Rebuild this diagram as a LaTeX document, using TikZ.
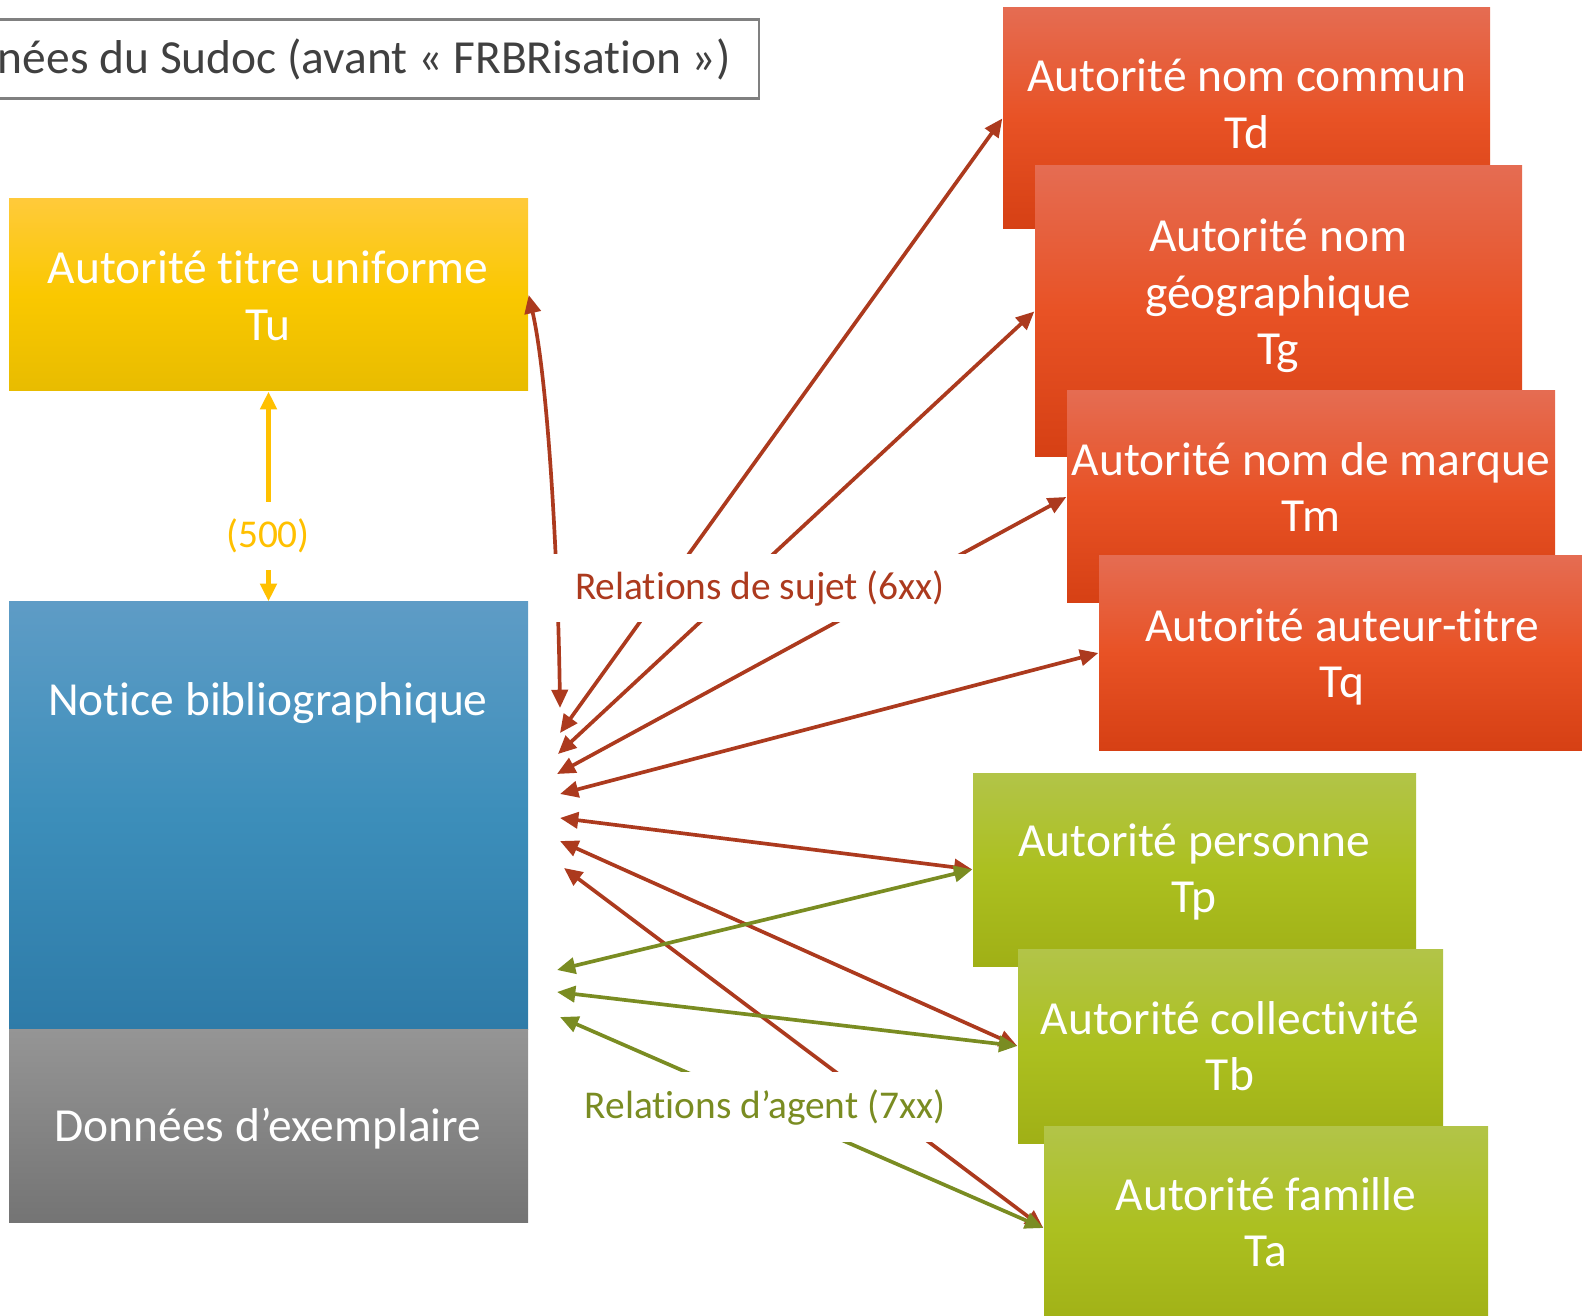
\documentclass[tikz,border=0pt]{standalone}
\usepackage{fontspec}
\setmainfont{Carlito}[Ligatures=NoCommon]
\usetikzlibrary{arrows.meta,fit}

\definecolor{flecherouge}{RGB}{172,58,30}
\definecolor{flecheverte}{RGB}{122,140,34}
\definecolor{flechejaune}{RGB}{255,192,0}

\tikzset{
  bloc/.style={rectangle, inner sep=0pt},
  blocrouge/.style={bloc, top color={rgb,255:red,229;green,108;blue,82}, bottom color={rgb,255:red,214;green,64;blue,20}, middle color={rgb,255:red,232;green,82;blue,37}},
  blocvert/.style={bloc, top color={rgb,255:red,178;green,196;blue,72}, bottom color={rgb,255:red,160;green,176;blue,22}, middle color={rgb,255:red,172;green,192;blue,32}},
  blocjaune/.style={bloc, top color={rgb,255:red,255;green,202;blue,58}, bottom color={rgb,255:red,232;green,188;blue,0}, middle color={rgb,255:red,250;green,200;blue,0}},
  blocbleu/.style={bloc, top color={rgb,255:red,94;green,156;blue,198}, bottom color={rgb,255:red,46;green,123;blue,168}, middle color={rgb,255:red,60;green,142;blue,186}},
  blocgris/.style={bloc, top color={rgb,255:red,149;green,149;blue,149}, bottom color={rgb,255:red,116;green,116;blue,116}},
  txt/.style={text=white, align=center, font=\fontsize{13.5}{16.1}\selectfont},
  etiq/.style={fill=white, inner sep=0pt, font=\fontsize{11.2}{13}\selectfont},
  pointe/.style={line width=1.05pt, {Triangle[length=5.2pt,width=4.6pt]}-{Triangle[length=5.2pt,width=4.6pt]}},
  lienrouge/.style={pointe, draw=flecherouge},
  lienvert/.style={pointe, draw=flecheverte},
}

\begin{document}
\begin{tikzpicture}[x=0.01cm, y=-0.01cm]
			%%%%% START %%%%%
			\useasboundingbox (0,0) rectangle (1582,1316);
			\clip (0,0) rectangle (1582,1316);
			
			\node[draw=gray, line width=0.6pt, anchor=east, minimum height=0.79cm, inner xsep=8pt, text={rgb,255:red,64;green,64;blue,64}, font=\fontsize{13.5}{16.1}\selectfont] (titre) at (760,59) {nées du Sudoc (avant « FRBRisation »)};
			
			% notices de gauche
			\node[blocjaune, fit={(9,199) (528,391)}] (tu) {};
			\node[txt] (tutxt) at (268,296) {Autorité titre uniforme\\Tu};
			\node[blocbleu, fit={(9,602) (528,1029)}] (notice) {};
			\node[txt] (noticetxt) at (268,703) {Notice bibliographique};
			\node[blocgris, fit={(9,1029) (528,1222)}] (exemplaire) {};
			\node[txt] (exemplairetxt) at (268,1129) {Données d’exemplaire};
			
			% autorites sujet
			\node[blocrouge, fit={(1003,8) (1490,229)}] (td) {};
			\node[txt] (tdtxt) at (1247,104) {Autorité nom commun\\Td};
			\node[blocrouge, fit={(1035,166) (1522,457)}] (tg) {};
			\node[txt] (tgtxt) at (1278,296) {Autorité nom\\géographique\\Tg};
			\node[blocrouge, fit={(1067,391) (1555,603)}] (tm) {};
			\node[txt] (tmtxt) at (1311,487) {Autorité nom de marque\\Tm};
			\node[blocrouge, fit={(1099,556) (1590,750)}] (tq) {};
			\node[txt] (tqtxt) at (1342,657) {Autorité auteur-titre\\Tq};
			
			% autorites agent
			\node[blocvert, fit={(973,773) (1416,966)}] (tp) {};
			\node[txt] (tptxt) at (1194,872) {Autorité personne\\Tp};
			\node[blocvert, fit={(1018,949) (1443,1143)}] (tb) {};
			\node[txt] (tbtxt) at (1230,1046) {Autorité collectivité\\Tb};
			\node[blocvert, fit={(1044,1126) (1488,1330)}] (ta) {};
			\node[txt] (tatxt) at (1266,1222) {Autorité famille\\Ta};
			
			% bouts des fleches
			\coordinate (s0) at (560,708);
			\coordinate (s1) at (560,733);
			\coordinate (s2) at (558,754);
			\coordinate (s3) at (557,774);
			\coordinate (s4) at (560,794);
			\coordinate (s5) at (560,818);
			\coordinate (s6) at (560,841);
			\coordinate (s7) at (564,868);
			\coordinate (a1) at (557,970);
			\coordinate (a2) at (557,992);
			\coordinate (a3) at (560,1017);
			
			\draw[line width=1.2pt, draw=flechejaune, {Triangle[length=5pt,width=4.6pt]}-{Triangle[length=5pt,width=4.6pt]}] (tu.south) -- (notice.north);
			
			\draw[lienrouge] (tu.east) .. controls (548,380) and (558,560) .. (s0);
			\draw[lienrouge] (s1) -- (td.west);
			\draw[lienrouge] (s2) -- (tg.west);
			\draw[lienrouge] (s3) -- (tm.west);
			\draw[lienrouge] (s4) -- (tq.west);
			\draw[lienrouge] (s5) -- (tp.west);
			\draw[lienrouge] (s6) -- (tb.west);
			\draw[lienrouge] (s7) -- (ta.west);
			
			\draw[lienvert] (a1) -- (tp.west);
			\draw[lienvert] (a2) -- (tb.west);
			\draw[lienvert] (a3) -- (ta.west);
			
			% etiquettes
			\node[etiq, text=flechejaune, minimum width=0.9cm, minimum height=0.68cm] (cinqcents) at (268,536) {(500)};
			\node[etiq, text=flecherouge, minimum width=4.2cm, minimum height=0.68cm] (sujet) at (760,588) {Relations de sujet (6xx)};
			\node[etiq, text=flecheverte, minimum width=4.1cm, minimum height=0.70cm] (agent) at (765,1107) {Relations d’agent (7xx)};
			
			%%%%% END %%%%%
		\end{tikzpicture}
\end{document}
